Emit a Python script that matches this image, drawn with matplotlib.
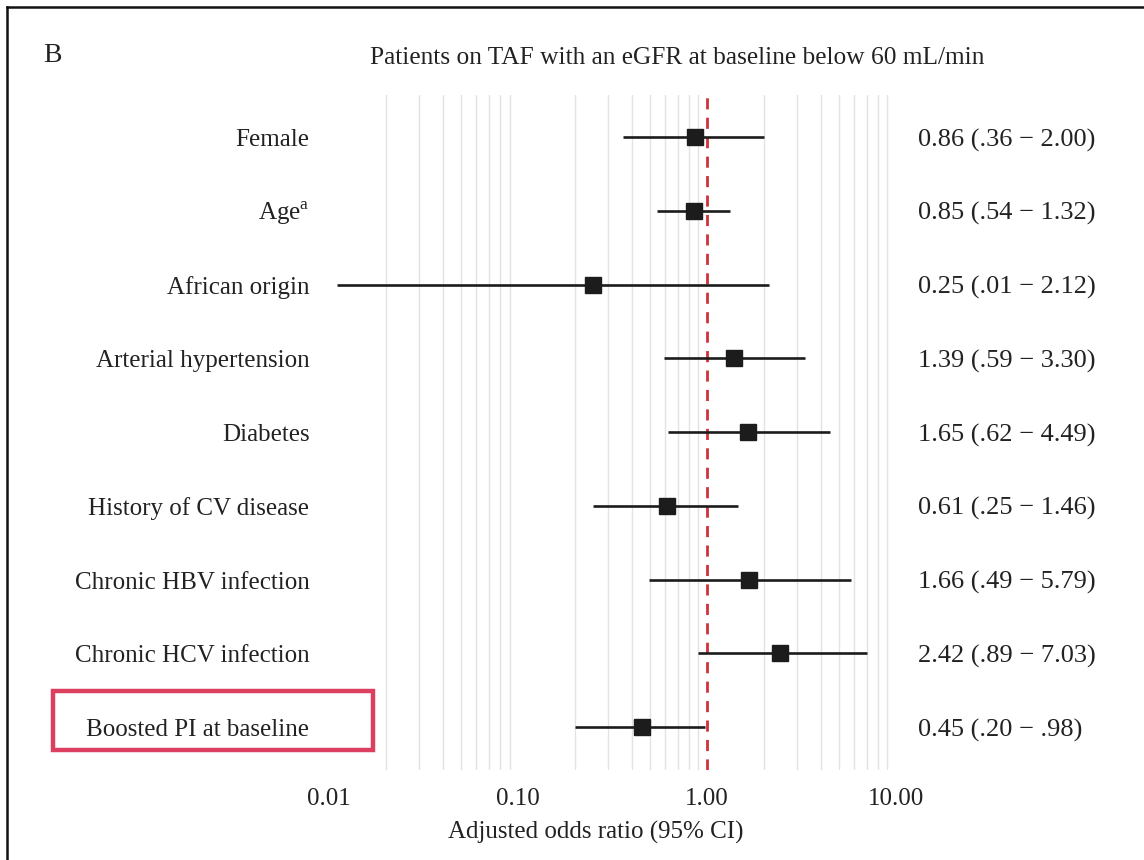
import numpy as np
import matplotlib
matplotlib.use('Agg')
import matplotlib.pyplot as plt
from matplotlib.patches import Rectangle
from matplotlib.lines import Line2D

plt.rcParams['font.family'] = ['Liberation Serif', 'DejaVu Serif']

# Data
labels = ['Female', 'Age$^\\mathregular{a}$', 'African origin', 'Arterial hypertension',
          'Diabetes', 'History of CV disease', 'Chronic HBV infection',
          'Chronic HCV infection', 'Boosted PI at baseline']
odds = [0.86, 0.85, 0.25, 1.39, 1.65, 0.61, 1.66, 2.42, 0.45]
lower = [0.36, 0.54, 0.011, 0.59, 0.62, 0.25, 0.49, 0.89, 0.20]
upper = [2.00, 1.32, 2.12, 3.30, 4.49, 1.46, 5.79, 7.03, 0.98]
ci_text = ['0.86 (.36 \u2212 2.00)', '0.85 (.54 \u2212 1.32)', '0.25 (.01 \u2212 2.12)',
           '1.39 (.59 \u2212 3.30)', '1.65 (.62 \u2212 4.49)', '0.61 (.25 \u2212 1.46)',
           '1.66 (.49 \u2212 5.79)', '2.42 (.89 \u2212 7.03)', '0.45 (.20 \u2212 .98)']
tick_vals = [0.01, 0.1, 1, 10]
tick_labels = ['0.01', '0.10', '1.00', '10.00']

W, H = 1144, 860
fig = plt.figure(figsize=(W / 100, H / 100), dpi=100)

def fx(px):
    return px / W

def fy(py):
    return 1 - py / H

# axes placed in pixel space
ax_l, ax_r, ax_t, ax_b = 311, 911, 95, 770
ax = fig.add_axes([fx(ax_l), fy(ax_b), fx(ax_r - ax_l), (ax_b - ax_t) / H])
ax.set_xscale('log')
ax.set_xlim(0.008, 12)
ax.set_ylim(8.58, -0.57)
for s in ax.spines.values():
    s.set_visible(False)
ax.set_yticks([])
ax.set_xticks(tick_vals)
ax.set_xticklabels(tick_labels)
ax.set_xticks([], minor=True)
ax.tick_params(axis='x', length=0, labelsize=18, colors='#222222', pad=13)

# minor gridlines only (2..9 per decade)
for d in [0.01, 0.1, 1]:
    for m in range(2, 10):
        ax.axvline(d * m, color='#e3e3e3', lw=1.0, zorder=0)

ax.axvline(1, color='#d0313a', lw=2.0, ls=(0, (4, 3)), zorder=1)

y = np.arange(len(labels))
ax.hlines(y, lower, upper, color='#1c1c1c', lw=1.9, zorder=2)
ax.plot(odds, y, 's', color='#1c1c1c', ms=12, zorder=3)

for i in range(len(labels)):
    ax.text(0.00785, y[i] + 0.04, labels[i], ha='right', va='center', fontsize=18,
            color='#222222')
    ax.text(13.0, y[i] + 0.04, ci_text[i], ha='left', va='center', fontsize=19,
            color='#222222')

fig.text(fx(596), fy(832), 'Adjusted odds ratio (95% CI)', ha='center', va='center',
         fontsize=18, color='#222222')
fig.text(fx(677), fy(58), 'Patients on TAF with an eGFR at baseline below 60 mL/min',
         ha='center', va='center', fontsize=18.3, color='#222222')
fig.text(fx(43), fy(56), 'B', ha='left', va='center', fontsize=20, color='#222222')

# highlight box
fig.patches.append(Rectangle((fx(53), fy(750)), fx(320), (750 - 691) / H,
                             transform=fig.transFigure, fill=False,
                             edgecolor='#dc3f5f', lw=3.2))

# outer frame (top and left edges visible)
fig.lines.append(Line2D([fx(7), 1], [fy(7), fy(7)], transform=fig.transFigure,
                        color='#111111', lw=1.8))
fig.lines.append(Line2D([fx(7), fx(7)], [fy(7), 0], transform=fig.transFigure,
                        color='#111111', lw=1.8))

fig.savefig('out.png', dpi=100)
